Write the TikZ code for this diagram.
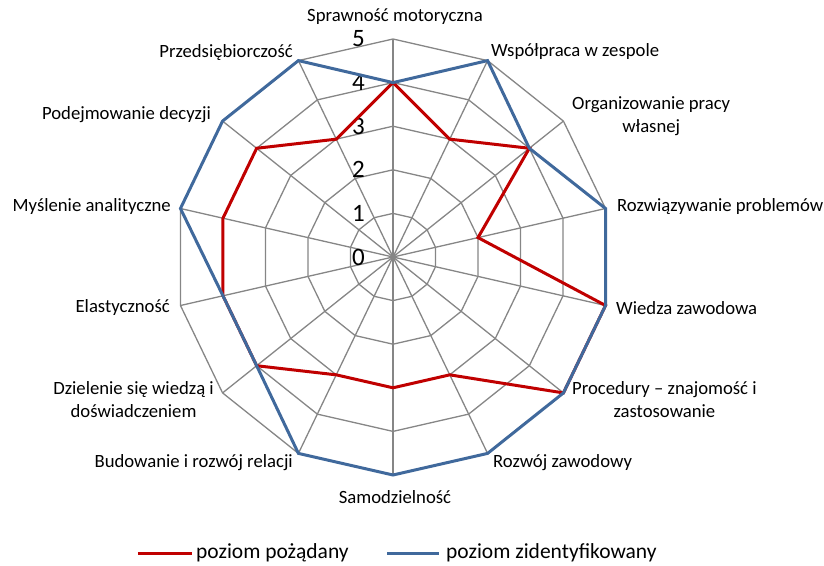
\documentclass[tikz,border=0pt]{standalone}
\usepackage{fontspec}
\setmainfont{Carlito}
\usetikzlibrary{positioning}
\definecolor{webgray}{HTML}{868686}
\definecolor{wantred}{HTML}{C00000}
\definecolor{foundblue}{HTML}{40699C}
\tikzset{
  web/.style={draw=webgray, line width=1.3pt},
  series/.style={draw=#1, line width=3pt, line join=miter},
  axlbl/.style={font=\fontsize{18.7}{23}\selectfont, align=center, inner sep=0pt},
  ticklbl/.style={font=\fontsize{25}{25}\selectfont, anchor=east, inner sep=0pt},
  legline/.style={draw=#1, line width=3pt},
  legtxt/.style={font=\fontsize{21.5}{24}\selectfont, anchor=west, inner sep=0pt}
}
\newcommand{\lvl}{43.6}

\begin{document}
\begin{tikzpicture}[x=1pt,y=1pt]
  \useasboundingbox (-393,-308) rectangle (431,257);
  \foreach \r in {1,...,5}
    \draw[web] ({90}:{\r*\lvl}) \foreach \i in {1,...,13}{ -- ({90-\i*360/14}:{\r*\lvl})} -- cycle;
  \foreach \i in {0,...,13}
    \draw[web] (0,0) -- ({90-\i*360/14}:{5*\lvl});
  \draw[web, line width=2pt] (0,0) -- ({90}:{5*\lvl});
  \foreach \v in {0,...,5}
    \node[ticklbl] (tick\v) at (-28,{\v*\lvl}) {\v};

  \foreach \v [count=\i from 0] in {4,3,4,2,5,5,3,3,3,4,4,4,4,3}
    \coordinate (want\i) at ({90-\i*360/14}:{\v*\lvl});
  \foreach \v [count=\i from 0] in {4,5,4,5,5,5,5,5,5,4,4,5,5,5}
    \coordinate (found\i) at ({90-\i*360/14}:{\v*\lvl});
  \draw[series=wantred] (want0) \foreach \i in {1,...,13}{ -- (want\i)} -- cycle;
  \draw[series=foundblue] (found0) \foreach \i in {1,...,13}{ -- (found\i)} -- cycle;

  \node[axlbl] (sprawnosc) at (2,240) {Sprawność motoryczna};
  \node[axlbl, anchor=west] (wspolpraca) at (98,205) {Współpraca w zespole};
  \node[axlbl, anchor=west] (organizowanie) at (179,141) {Organizowanie pracy\\własnej};
  \node[axlbl, anchor=west] (rozwiazywanie) at (224,50) {Rozwiązywanie problemów};
  \node[axlbl, anchor=west] (wiedza) at (223,-51) {Wiedza zawodowa};
  \node[axlbl, anchor=west] (procedury) at (179,-142.5) {Procedury – znajomość i\\zastosowanie};
  \node[axlbl, anchor=west] (rozwoj) at (100,-206) {Rozwój zawodowy};
  \node[axlbl] (samodzielnosc) at (2,-240) {Samodzielność};
  \node[axlbl, anchor=east] (budowanie) at (-100,-206) {Budowanie i rozwój relacji};
  \node[axlbl, anchor=east] (dzielenie) at (-179,-142.5) {Dzielenie się wiedzą i\\doświadczeniem};
  \node[axlbl, anchor=east] (elastycznosc) at (-223,-51) {Elastyczność};
  \node[axlbl, anchor=east] (myslenie) at (-222,50) {Myślenie analityczne};
  \node[axlbl, anchor=east] (podejmowanie) at (-182,142) {Podejmowanie decyzji};
  \node[axlbl, anchor=east] (przedsiebiorczosc) at (-100,204) {Przedsiębiorczość};

  \coordinate (wantA) at (-255,-296);
  \coordinate (wantB) at (-201,-296);
  \draw[legline=wantred] (wantA) -- (wantB);
  \node[legtxt, right=4pt of wantB] (wanttxt) {poziom pożądany};
  \coordinate (foundA) at (-6,-296);
  \coordinate (foundB) at (46,-296);
  \draw[legline=foundblue] (foundA) -- (foundB);
  \node[legtxt, right=7pt of foundB] (foundtxt) {poziom zidentyfikowany};
\end{tikzpicture}
\end{document}
